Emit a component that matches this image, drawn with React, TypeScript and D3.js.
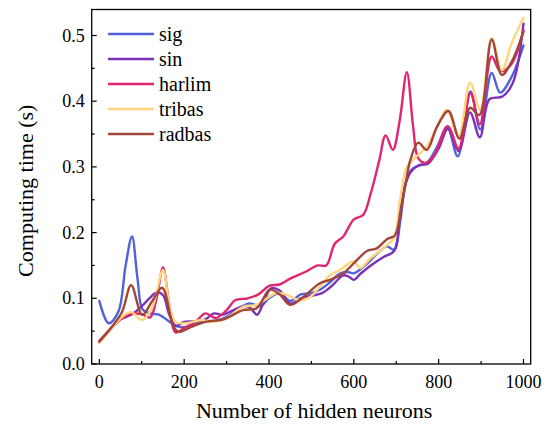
import React from "react";
import * as d3 from "d3";

type Pt = [number, number];

const seriesNames = ["sig", "sin", "harlim", "tribas", "radbas"];
const seriesColors = ["#5262DA", "#7D30B9", "#E0266F", "#FFD57F", "#A2463B"];

const sigData: Pt[] = [
  [0, 0.096], [22, 0.062], [45, 0.08], [62, 0.15], [77, 0.194], [90, 0.13], [102, 0.083],
  [120, 0.077], [140, 0.075], [160, 0.067], [180, 0.058], [200, 0.056], [225, 0.061],
  [250, 0.065], [275, 0.066], [300, 0.072], [330, 0.085], [355, 0.092], [380, 0.088],
  [400, 0.1], [425, 0.108], [450, 0.096], [475, 0.106], [500, 0.108], [525, 0.115],
  [545, 0.125], [565, 0.137], [585, 0.14], [600, 0.138], [630, 0.152], [655, 0.168],
  [678, 0.179], [695, 0.174], [710, 0.22], [722, 0.275], [735, 0.295], [750, 0.301],
  [772, 0.306], [796, 0.33], [820, 0.361], [845, 0.316], [875, 0.415], [898, 0.357],
  [925, 0.443], [945, 0.413], [972, 0.437], [1000, 0.485],
];

const sinData: Pt[] = [
  [0, 0.035], [25, 0.052], [50, 0.068], [78, 0.076], [100, 0.088], [118, 0.1], [135, 0.109],
  [150, 0.105], [165, 0.075], [180, 0.058], [200, 0.064], [225, 0.065], [250, 0.068],
  [270, 0.077], [290, 0.075], [310, 0.08], [340, 0.088], [355, 0.086], [372, 0.075],
  [388, 0.095], [405, 0.115], [425, 0.112], [450, 0.092], [475, 0.1], [500, 0.104],
  [525, 0.108], [550, 0.12], [575, 0.135], [588, 0.133], [600, 0.128], [615, 0.137],
  [640, 0.15], [670, 0.163], [695, 0.172], [708, 0.22], [720, 0.27], [735, 0.293],
  [755, 0.303], [775, 0.305], [800, 0.328], [822, 0.358], [847, 0.324], [874, 0.383],
  [897, 0.345], [920, 0.403], [950, 0.407], [975, 0.428], [1000, 0.518],
];

const harlimData: Pt[] = [
  [0, 0.035], [25, 0.052], [50, 0.068], [75, 0.076], [100, 0.076], [120, 0.071],
  [135, 0.1], [150, 0.147], [165, 0.09], [180, 0.048], [200, 0.055], [225, 0.063],
  [250, 0.077], [275, 0.07], [300, 0.082], [320, 0.097], [350, 0.1], [375, 0.106],
  [400, 0.119], [425, 0.121], [450, 0.13], [485, 0.14], [515, 0.15], [535, 0.15],
  [555, 0.183], [575, 0.194], [600, 0.22], [622, 0.227], [640, 0.26], [660, 0.31],
  [675, 0.348], [692, 0.326], [708, 0.37], [725, 0.444], [740, 0.36], [752, 0.313],
  [770, 0.306], [790, 0.318], [822, 0.362], [847, 0.328], [875, 0.412], [897, 0.365],
  [925, 0.468], [945, 0.446], [970, 0.455], [1000, 0.508],
];

const tribasData: Pt[] = [
  [0, 0.032], [30, 0.055], [54, 0.072], [75, 0.079], [101, 0.067], [124, 0.085],
  [150, 0.143], [164, 0.095], [179, 0.064], [202, 0.062], [242, 0.067], [261, 0.064],
  [292, 0.067], [339, 0.087], [371, 0.09], [418, 0.108], [442, 0.105], [473, 0.097],
  [497, 0.102], [520, 0.118], [544, 0.135], [567, 0.143], [599, 0.156], [615, 0.146],
  [638, 0.16], [678, 0.181], [695, 0.192], [709, 0.25], [725, 0.3], [748, 0.316],
  [772, 0.331], [796, 0.361], [819, 0.387], [847, 0.346], [874, 0.428], [898, 0.387],
  [925, 0.496], [949, 0.447], [972, 0.488], [1000, 0.527],
];

const radbasData: Pt[] = [
  [0, 0.034], [30, 0.057], [54, 0.08], [75, 0.12], [101, 0.075], [124, 0.095],
  [148, 0.116], [175, 0.057], [187, 0.049], [219, 0.057], [250, 0.064], [292, 0.068],
  [339, 0.082], [371, 0.085], [402, 0.113], [425, 0.106], [450, 0.09], [481, 0.102],
  [520, 0.123], [544, 0.128], [575, 0.138], [607, 0.158], [631, 0.172], [654, 0.176],
  [678, 0.19], [697, 0.196], [712, 0.24], [721, 0.27], [733, 0.31], [752, 0.337],
  [772, 0.326], [796, 0.361], [823, 0.385], [849, 0.343], [874, 0.39], [896, 0.379],
  [925, 0.494], [949, 0.44], [972, 0.46], [1000, 0.506],
];

const allData = [sigData, sinData, harlimData, tribasData, radbasData];

const xTicks = [0, 200, 400, 600, 800, 1000];
const xMinorTicks = [100, 300, 500, 700, 900];
const yTicks = [0.0, 0.1, 0.2, 0.3, 0.4, 0.5];
const yMinorTicks = [0.05, 0.15, 0.25, 0.35, 0.45];

const W = 548;
const H = 427;
const left = 91.7;
const right = 530.7;
const top = 9.5;
const bottom = 364;

const FONT = "Liberation Serif, Times New Roman, DejaVu Serif, serif";

export default function App() {
  const x = d3.scaleLinear().domain([-18, 1017]).range([left, right]);
  const y = d3.scaleLinear().domain([0, 0.5]).range([bottom, 35.5]);
  const line = d3
    .line<Pt>()
    .x((d) => x(d[0]))
    .y((d) => y(d[1]))
    .curve(d3.curveCatmullRom.alpha(0.5));
  const ts = { fontFamily: FONT };

  return (
    <svg
      width={W}
      height={H}
      style={{ position: "absolute", left: 0, top: 0, background: "#fff" }}
    >
      <rect x={0} y={0} width={W} height={H} fill="#fff" />
      {allData.map((d, i) => (
        <path
          key={seriesNames[i]}
          d={line(d) || ""}
          fill="none"
          stroke={seriesColors[i]}
          strokeWidth={2.4}
          strokeLinejoin="round"
          strokeLinecap="round"
        />
      ))}
      <rect
        x={left}
        y={top}
        width={right - left}
        height={bottom - top}
        fill="none"
        stroke="#000"
        strokeWidth={1.3}
      />
      {xTicks.map((t) => (
        <g key={"xt" + t}>
          <line x1={x(t)} x2={x(t)} y1={bottom} y2={bottom - 5} stroke="#000" strokeWidth={1.2} />
          <text x={x(t)} y={bottom + 24} textAnchor="middle" fontSize={18} fill="#000" style={ts}>
            {t}
          </text>
        </g>
      ))}
      {xMinorTicks.map((t) => (
        <line key={"xm" + t} x1={x(t)} x2={x(t)} y1={bottom} y2={bottom - 3} stroke="#000" strokeWidth={1.2} />
      ))}
      {yTicks.map((t) => (
        <g key={"yt" + t}>
          <line x1={left} x2={left + 5} y1={y(t)} y2={y(t)} stroke="#000" strokeWidth={1.2} />
          <text x={left - 7} y={y(t) + 6} textAnchor="end" fontSize={18} fill="#000" style={ts}>
            {t.toFixed(1)}
          </text>
        </g>
      ))}
      {yMinorTicks.map((t) => (
        <line key={"ym" + t} x1={left} x2={left + 3} y1={y(t)} y2={y(t)} stroke="#000" strokeWidth={1.2} />
      ))}
      <text
        x={(left + right) / 2 + 3}
        y={418}
        textAnchor="middle"
        fontSize={22}
        fill="#000"
        style={ts}
      >
        Number of hidden neurons
      </text>
      <text
        transform={`translate(33, ${(top + bottom) / 2 + 4}) rotate(-90)`}
        textAnchor="middle"
        fontSize={22}
        fill="#000"
        style={ts}
      >
        Computing time (s)
      </text>
      {seriesNames.map((name, i) => (
        <g key={"lg" + name} transform={`translate(0, ${34 + i * 25})`}>
          <line x1={108} x2={154} y1={0} y2={0} stroke={seriesColors[i]} strokeWidth={2.4} />
          <text x={159} y={7} fontSize={20} fill="#000" style={ts}>
            {name}
          </text>
        </g>
      ))}
    </svg>
  );
}
